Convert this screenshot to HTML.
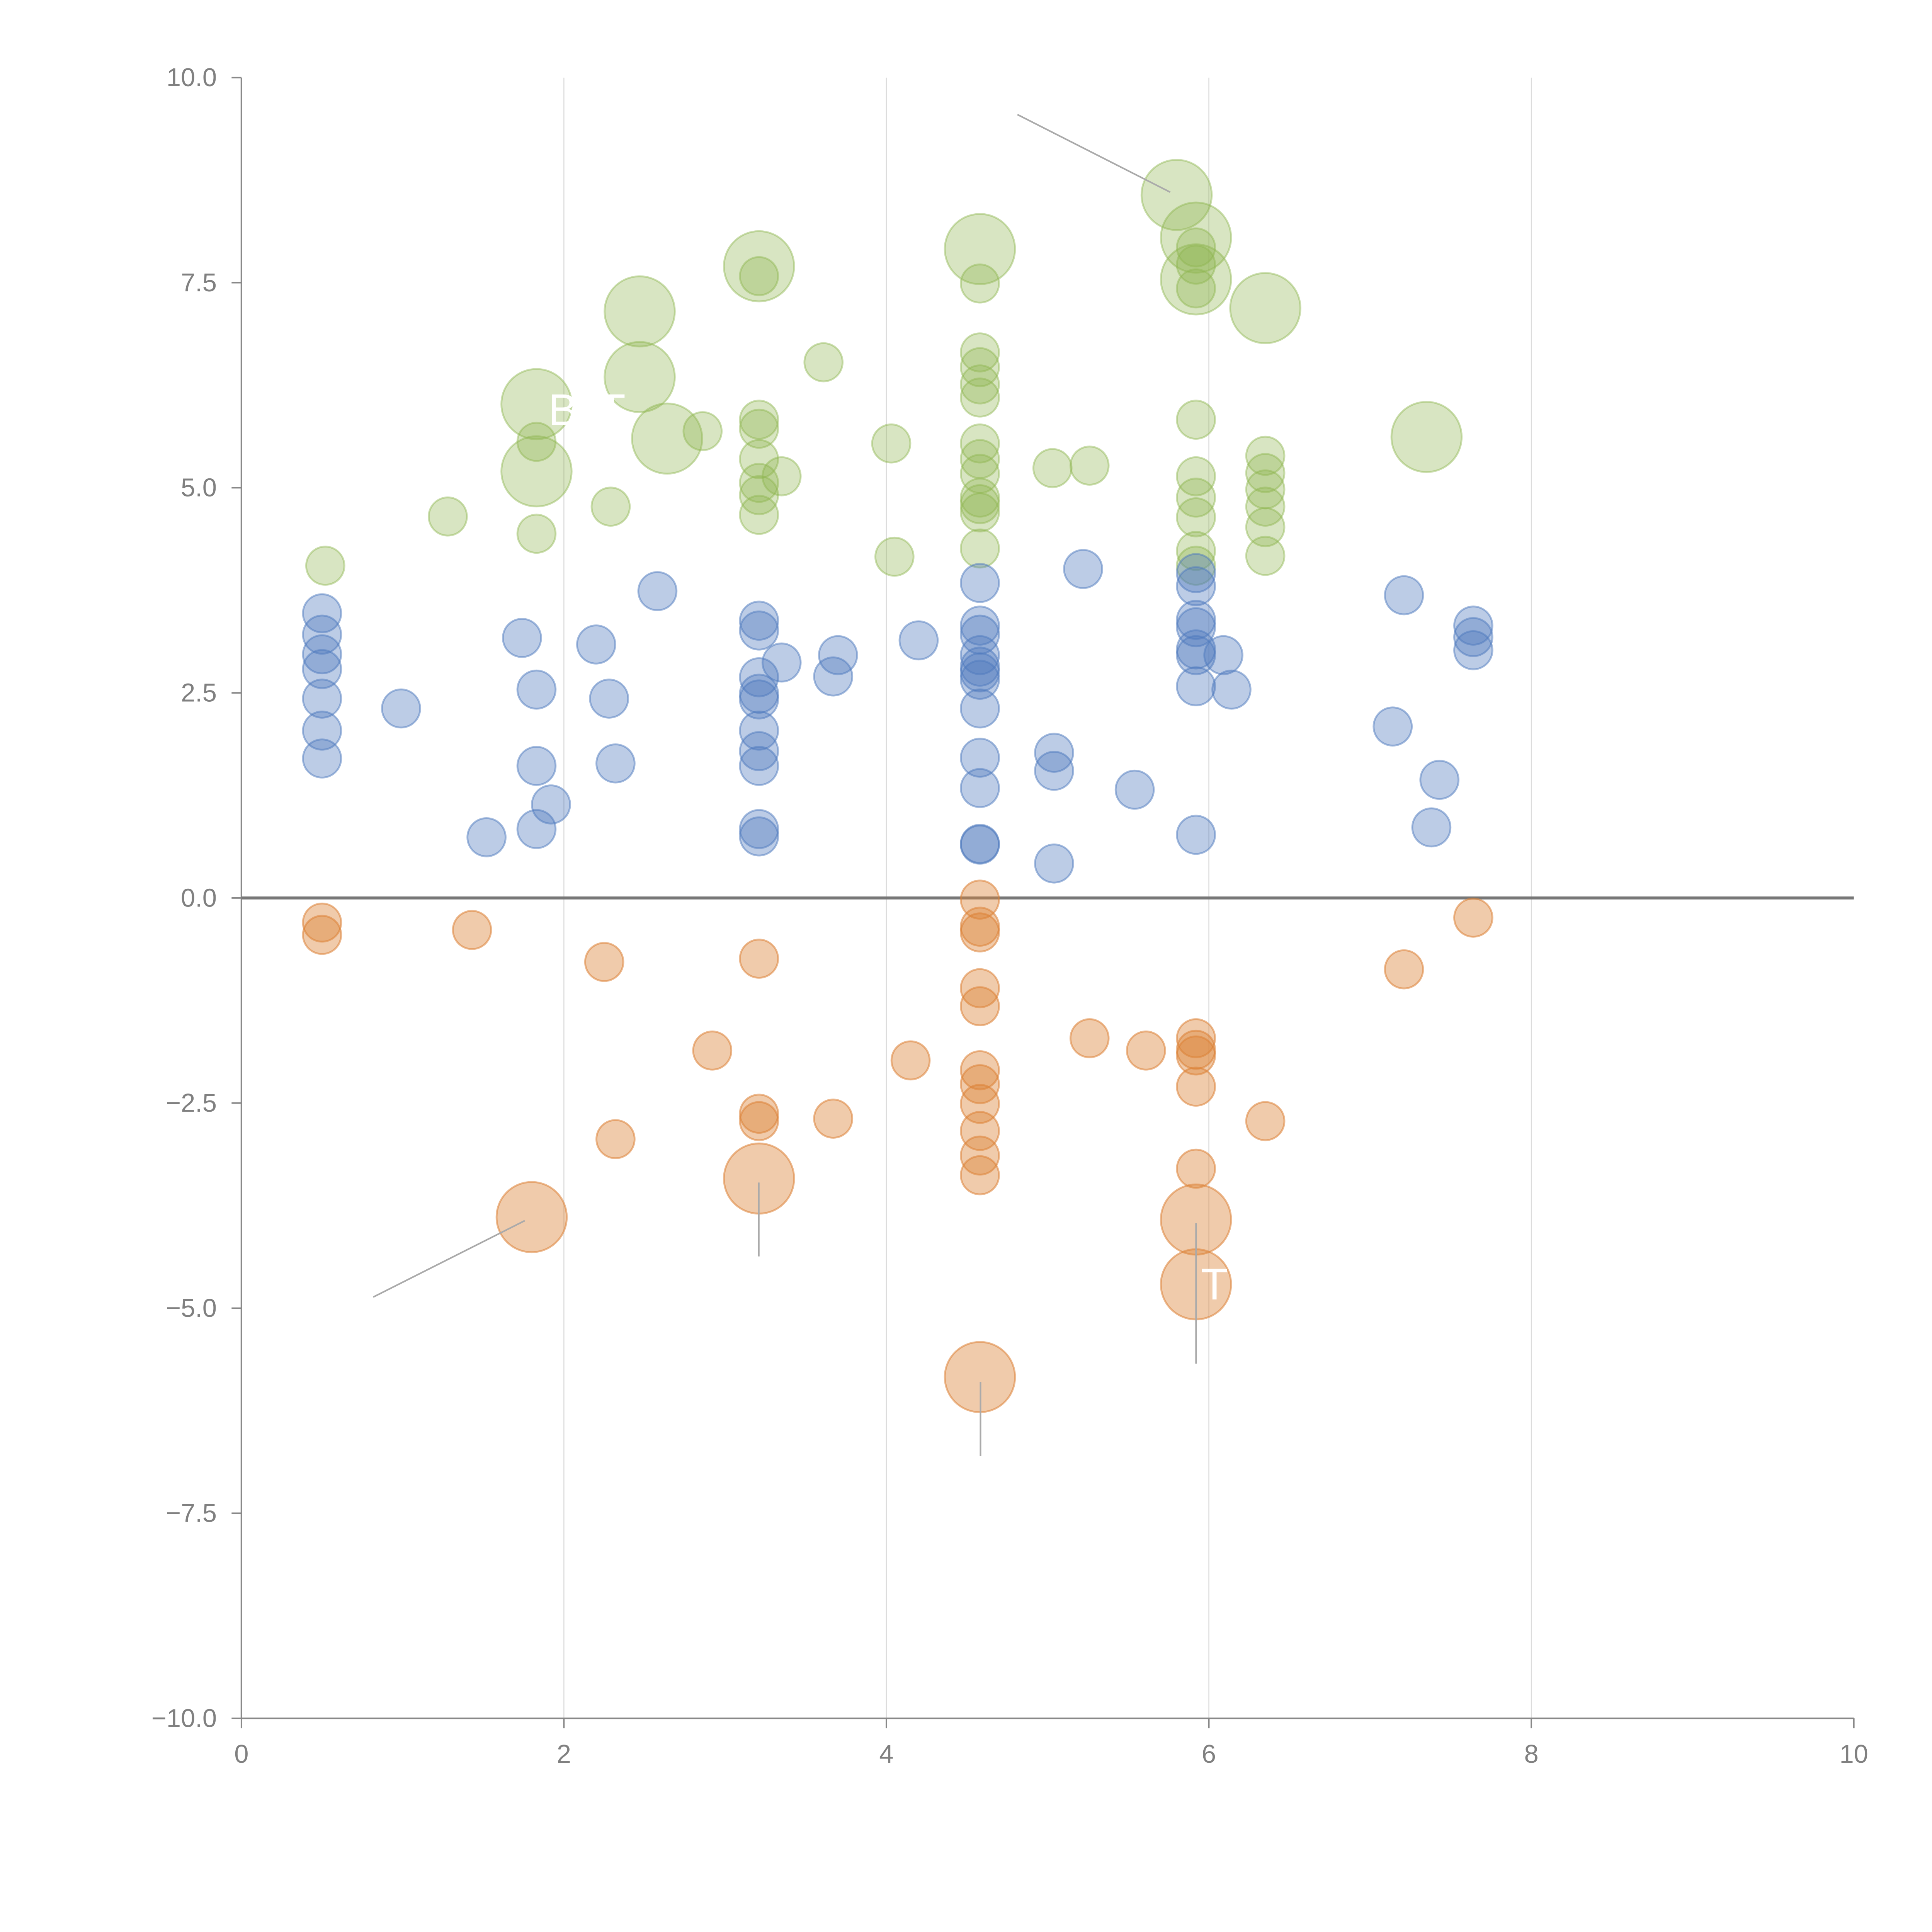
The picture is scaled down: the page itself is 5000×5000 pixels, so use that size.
<!DOCTYPE html>
<html><head><meta charset="utf-8"><style>
html,body{margin:0;padding:0;background:#fff}
svg{display:block}
text{font-family:"Liberation Sans",sans-serif}
</style></head><body>
<svg id="chart" width="5000" height="5000" viewBox="0 0 1562.5 1562.5" xmlns="http://www.w3.org/2000/svg">
<g transform="scale(0.9962)">
<g id="grid"></g>
<g id="axes"></g>
<g id="marks"></g>
<g id="annot"></g>
</g>
</svg>
<script>
const xTicks=[0,2,4,6,8,10];
const yTicks=[10,7.5,5,2.5,0,-2.5,-5,-7.5,-10];
const yTickLabels=["10.0","7.5","5.0","2.5","0.0","\u22122.5","\u22125.0","\u22127.5","\u221210.0"];
const blueX=[0.5,0.5,0.5,0.5,0.5,0.5,0.5,0.99,1.52,1.74,1.83,1.83,1.83,1.92,2.2,2.28,2.32,2.58,3.21,3.21,3.21,3.21,3.21,3.21,3.21,3.21,3.21,3.21,3.35,3.67,3.7,4.2,4.58,4.58,4.58,4.58,4.58,4.58,4.58,4.58,4.58,4.58,4.58,4.58,5.04,5.04,5.04,5.22,5.54,5.92,5.92,5.92,5.92,5.92,5.92,5.92,5.92,6.09,6.14,7.14,7.21,7.38,7.43,7.64,7.64,7.64];
const blueY=[3.47,3.21,2.97,2.79,2.43,2.04,1.70,2.31,0.74,3.17,2.54,1.61,0.84,1.14,3.09,2.43,1.64,3.74,3.38,3.26,2.69,2.49,2.42,2.04,1.79,1.61,0.84,0.75,2.87,2.7,2.96,3.14,3.84,3.32,3.21,2.96,2.82,2.75,2.66,2.31,1.71,1.34,0.66,0.65,1.77,1.55,0.42,4.01,1.32,3.96,3.8,3.39,3.3,3.03,2.96,2.58,0.77,2.96,2.54,2.09,3.69,0.86,1.44,3.32,3.18,3.02];
const orangeX=[0.5,0.5,1.43,2.25,2.32,2.92,3.21,3.21,3.21,3.21,3.67,4.15,4.58,4.58,4.58,4.58,4.58,4.58,4.58,4.58,4.58,4.58,4.58,4.58,5.26,5.61,5.92,5.92,5.92,5.92,5.92,5.92,5.92,6.35,7.21,7.64,1.8];
const orangeY=[-0.3,-0.45,-0.39,-0.78,-2.94,-1.86,-0.74,-2.63,-2.72,-3.42,-2.69,-1.98,-0.02,-0.35,-0.42,-1.1,-1.32,-2.1,-2.27,-2.51,-2.84,-3.14,-3.38,-5.84,-1.71,-1.86,-1.71,-1.85,-1.92,-2.3,-3.3,-3.92,-4.71,-2.72,-0.87,-0.24,-3.89];
const orangeBig=[9,23,31,32,36];
const greenX=[0.52,1.28,1.83,1.83,1.83,1.83,2.29,2.47,2.47,2.64,2.86,3.21,3.21,3.21,3.21,3.21,3.21,3.21,3.21,3.35,3.61,4.03,4.05,4.58,4.58,4.58,4.58,4.58,4.58,4.58,4.58,4.58,4.58,4.58,4.58,4.58,5.03,5.26,5.8,5.92,5.92,5.92,5.92,5.92,5.92,5.92,5.92,5.92,5.92,5.92,6.35,6.35,6.35,6.35,6.35,6.35,6.35,7.35];
const greenY=[4.05,4.65,4.44,5.56,6.02,5.2,4.77,7.15,6.35,5.6,5.69,7.7,7.58,5.83,5.72,5.35,5.06,4.91,4.67,5.14,6.53,5.54,4.16,7.91,7.49,6.65,6.47,6.26,6.1,5.54,5.35,5.17,4.88,4.8,4.7,4.26,5.24,5.27,8.57,8.05,7.54,7.93,7.72,7.43,5.83,5.14,4.88,4.64,4.23,4.05,7.19,5.39,5.18,4.98,4.77,4.52,4.17,5.62];
const greenBig=[4,5,7,8,9,11,23,38,39,40,50,57];

const X0=196,XS=130.9,Y0=729,YS=66.6;
const sx=v=>X0+v*XS, sy=v=>Y0-v*YS;
const NS="http://www.w3.org/2000/svg";
function mk(tag,attrs,parent){const e=document.createElementNS(NS,tag);for(const k in attrs)e.setAttribute(k,attrs[k]);parent.appendChild(e);return e;}
const grid=document.getElementById('grid'),axes=document.getElementById('axes'),marks=document.getElementById('marks'),annot=document.getElementById('annot');

xTicks.forEach(t=>{
  if(t>0&&t<10){const g=mk('line',{x1:sx(t),x2:sx(t),y1:sy(10),y2:sy(-10),stroke:'#dcdcdc','stroke-width':0.8},grid);
  
  }
  const tk=mk('line',{x1:sx(t),x2:sx(t),y1:sy(-10),y2:sy(-10)+8,stroke:'#888','stroke-width':1.2},axes);
  
  
  const lb=mk('text',{x:sx(t),y:sy(-10)+36,'text-anchor':'middle','font-size':21,fill:'#808080'},axes);
  lb.textContent=String(t);
  
  
});
yTicks.forEach((t,i)=>{
  const tk=mk('line',{x1:sx(0)-8,x2:sx(0),y1:sy(t),y2:sy(t),stroke:'#888','stroke-width':1.2},axes);
  
  
  const lb=mk('text',{x:sx(0)-20,y:sy(t)+7,'text-anchor':'end','font-size':21,fill:'#808080'},axes);
  lb.textContent=yTickLabels[i];
  
  
});
const ya=mk('line',{x1:sx(0),x2:sx(0),y1:sy(10),y2:sy(-10),stroke:'#888','stroke-width':1.3},axes);


const xa=mk('line',{x1:sx(0),x2:sx(10),y1:sy(-10),y2:sy(-10),stroke:'#888','stroke-width':1.3},axes);


const zl=mk('line',{x1:sx(0),x2:sx(10),y1:sy(0),y2:sy(0),stroke:'#777','stroke-width':2.4},axes);



function series(xs,ys,big,fill,stroke,name){
  xs.forEach((x,i)=>{
    const r=big.includes(i)?28.5:15.5;
    const c=mk('circle',{cx:sx(x),cy:sy(ys[i]),r:r,fill:fill,stroke:stroke,'stroke-width':1.5},marks);
    
    
  });
}
series(greenX,greenY,greenBig,'rgba(143,181,80,0.35)','rgba(143,181,80,0.45)','green-bubble');
series(blueX,blueY,[],'rgba(78,121,190,0.38)','rgba(78,121,190,0.5)','blue-bubble');
series(orangeX,orangeY,orangeBig,'rgba(220,130,55,0.42)','rgba(220,130,55,0.55)','orange-bubble');

const leaders=[[826,93,950,156],[303,1053,426,991],[616,960,616,1020],[796,1122,796,1182],[971,993,971,1107]];
leaders.forEach(l=>{const e=mk('line',{x1:l[0],y1:l[1],x2:l[2],y2:l[3],stroke:'#aaa','stroke-width':1.3},annot);
  
  });
const labels=[[445,345,"B'IT"],[975,1055,"T"]];
labels.forEach(l=>{const t=mk('text',{x:l[0],y:l[1],'font-size':36,fill:'#fff'},annot);t.textContent=l[2];
  
  });
</script>
</body></html>
